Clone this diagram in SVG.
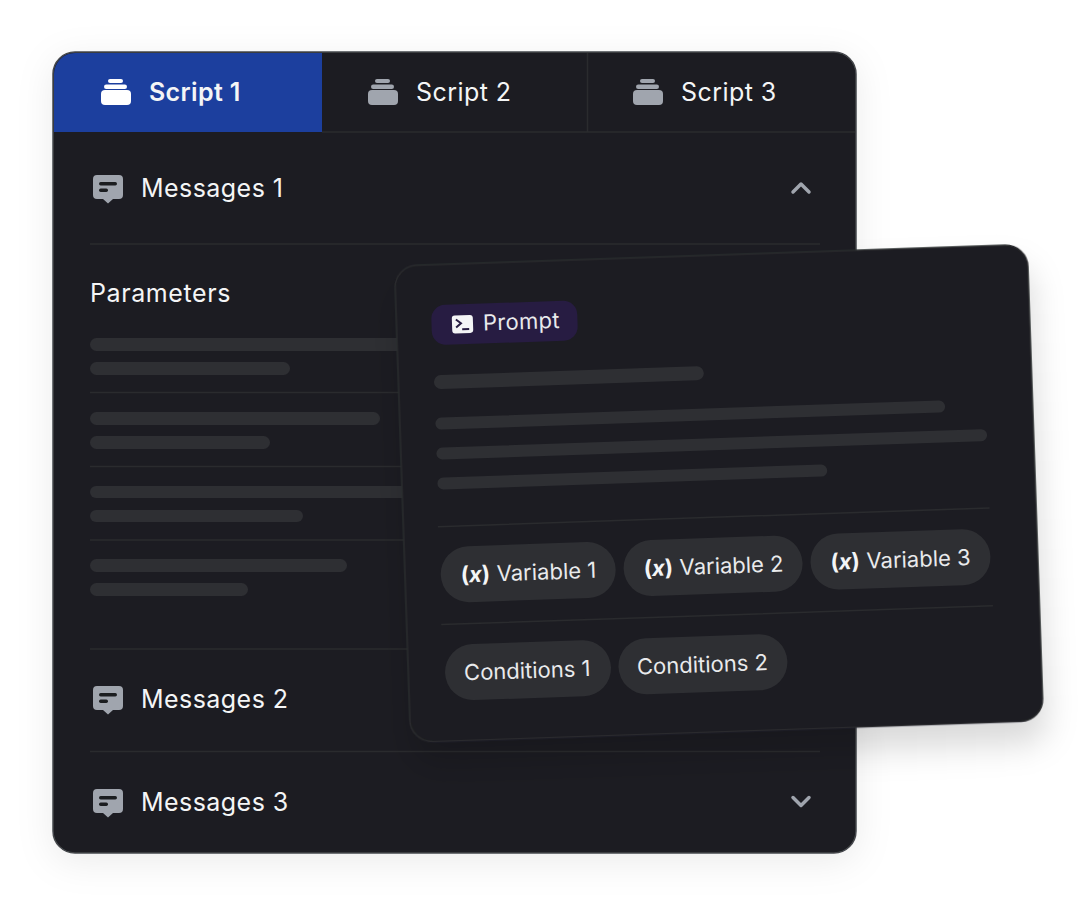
<svg xmlns="http://www.w3.org/2000/svg" width="1080" height="905" viewBox="0 0 1080 905">
<style>
text{font-family:Inter,"Noto Sans",sans-serif}
.main{font-size:25px;fill:#f4f5f6;letter-spacing:.45px}
.cardt{font-size:22px;fill:#e9eaec}
.bar{fill:#2e2f33}
.div{stroke:#2a2b2e;stroke-width:1.5;fill:none}
.chip{fill:#2e2f33}
.x{font-size:22px;font-weight:700;fill:#f4f5f6}
.i{font-style:italic}
</style>
<defs>
<filter id="s1" x="-15%" y="-15%" width="130%" height="130%"><feDropShadow dx="0" dy="8" stdDeviation="18" flood-color="#000" flood-opacity=".08"/></filter>
<filter id="s2" x="-15%" y="-15%" width="130%" height="135%"><feDropShadow dx="2" dy="22" stdDeviation="16" flood-color="#000" flood-opacity=".15"/></filter>
<clipPath id="panel"><rect x="54" y="53" width="801" height="799" rx="21"/></clipPath>
<symbol id="stack" viewBox="0 0 30 26" overflow="visible">
<rect x="7" y="0" width="15" height="4" rx="2"/><rect x="3" y="5.500" width="23" height="4.500" rx="2.200"/><path d="M4 11h22a4 4 0 0 1 4 4v7a4 4 0 0 1-4 4H4a4 4 0 0 1-4-4v-7a4 4 0 0 1 4-4z"/>
</symbol>
<symbol id="msg" viewBox="0 0 30 28" overflow="visible">
<path fill-rule="evenodd" d="M4 0h22a4 4 0 0 1 4 4v16a4 4 0 0 1-4 4h-6l-5 4.500-5-4.500H4a4 4 0 0 1-4-4V4a4 4 0 0 1 4-4z" fill="#a0a5ae"/>
<rect x="6" y="7" width="18" height="3.500" rx="1.700" fill="#1b1d20"/><rect x="6" y="13.500" width="9" height="3.500" rx="1.700" fill="#1b1d20"/>
</symbol>
</defs>
<g id="panel-card">
<rect x="53" y="52" width="803" height="801" rx="22" fill="#1b1d20" stroke="#45474c" stroke-width="1.500" filter="url(#s1)"/>
</g>
<g id="tabs" clip-path="url(#panel)">
<rect x="54" y="53" width="268" height="79" fill="#1c3f9e"/>
<path class="div" d="M322 132H856M587.500 53V132"/>
</g>
<g id="tab-1"><use href="#stack" x="101" y="79" width="30" height="26" fill="#fff"/><text x="149" y="101" class="main" font-weight="600" style="letter-spacing:.35px">Script 1</text></g>
<g id="tab-2"><use href="#stack" x="368" y="79" width="30" height="26" fill="#a0a5ae"/><text x="416" y="101" class="main">Script 2</text></g>
<g id="tab-3"><use href="#stack" x="633" y="79" width="30" height="26" fill="#a0a5ae"/><text x="681" y="101" class="main">Script 3</text></g>
<g id="messages-1"><use href="#msg" x="93" y="175" width="30" height="28"/><text x="141" y="197" class="main">Messages 1</text><path d="M793 192l8-8 8 8" fill="none" stroke="#a0a5ae" stroke-width="3.500" stroke-linecap="round" stroke-linejoin="round"/></g>
<path class="div" d="M90 244H820"/>
<g id="parameters"><text x="90" y="301.500" class="main" style="letter-spacing:.6px">Parameters</text>
<rect class="bar" x="90" y="338" width="320" height="13" rx="6.500"/><rect class="bar" x="90" y="362" width="200" height="13" rx="6.500"/>
<path class="div" d="M90 392.500H410"/>
<rect class="bar" x="90" y="412" width="290" height="13" rx="6.500"/><rect class="bar" x="90" y="436" width="180" height="13" rx="6.500"/>
<path class="div" d="M90 466.500H410"/>
<rect class="bar" x="90" y="486" width="320" height="12" rx="6"/><rect class="bar" x="90" y="510" width="213" height="12" rx="6"/>
<path class="div" d="M90 540H410"/>
<rect class="bar" x="90" y="559" width="257" height="13" rx="6.500"/><rect class="bar" x="90" y="583" width="158" height="13" rx="6.500"/>
</g>
<path class="div" d="M90 649H820"/>
<g id="messages-2"><use href="#msg" x="93" y="686" width="30" height="28"/><text x="141" y="708" class="main">Messages 2</text></g>
<path class="div" d="M90 751.500H820"/>
<g id="messages-3"><use href="#msg" x="93" y="789" width="30" height="28"/><text x="141" y="811" class="main">Messages 3</text><path d="M793 797.500l8 8 8-8" fill="none" stroke="#a0a5ae" stroke-width="3.500" stroke-linecap="round" stroke-linejoin="round"/></g>

<g id="prompt-card" transform="translate(394.500 266) rotate(-1.950)">
<rect x="0" y="0" width="633" height="476.500" rx="22" fill="#1b1d20" stroke="#2a2b2e" stroke-width="1.500" filter="url(#s2)"/>
<g id="prompt-badge"><rect x="35" y="40.500" width="146" height="40" rx="14" fill="#271c42"/>
<rect x="55.500" y="51.500" width="21" height="18" rx="3" fill="#f4f5f6"/><path d="M59.500 55.500l5 4-5 4" fill="none" stroke="#271c42" stroke-width="2"/><path d="M65.500 65.500h7" stroke="#271c42" stroke-width="2"/>
<text x="86.500" y="67.500" class="cardt" style="letter-spacing:.3px">Prompt</text></g>
<rect class="bar" x="35.500" y="110.500" width="270" height="14" rx="7"/>
<rect class="bar" x="35.500" y="153" width="510" height="12" rx="6"/>
<rect class="bar" x="35.500" y="183" width="551" height="12" rx="6"/>
<rect class="bar" x="35.500" y="213" width="390" height="12" rx="6"/>
<path class="div" d="M34.500 262H586.500M34.500 360H586.500"/>
<g id="variable-1"><rect class="chip" x="35.700" y="282.500" width="175" height="56" rx="28"/><text x="55.700" y="318.500" class="x">(<tspan class="i">x</tspan>)</text><text x="91.700" y="318.500" class="cardt">Variable 1</text></g>
<g id="variable-2"><rect class="chip" x="218.700" y="282.500" width="179" height="56" rx="28"/><text x="238.700" y="318.500" class="x">(<tspan class="i">x</tspan>)</text><text x="274.700" y="318.500" class="cardt">Variable 2</text></g>
<g id="variable-3"><rect class="chip" x="405.700" y="282.500" width="180" height="56" rx="28"/><text x="425.700" y="318.500" class="x">(<tspan class="i">x</tspan>)</text><text x="461.700" y="318.500" class="cardt">Variable 3</text></g>
<g id="conditions-1"><rect class="chip" x="36.700" y="380.500" width="166" height="56" rx="28"/><text x="55.700" y="416.500" class="cardt">Conditions 1</text></g>
<g id="conditions-2"><rect class="chip" x="210.200" y="380.500" width="169" height="56" rx="28"/><text x="228.700" y="416.500" class="cardt">Conditions 2</text></g>
</g>
</svg>
